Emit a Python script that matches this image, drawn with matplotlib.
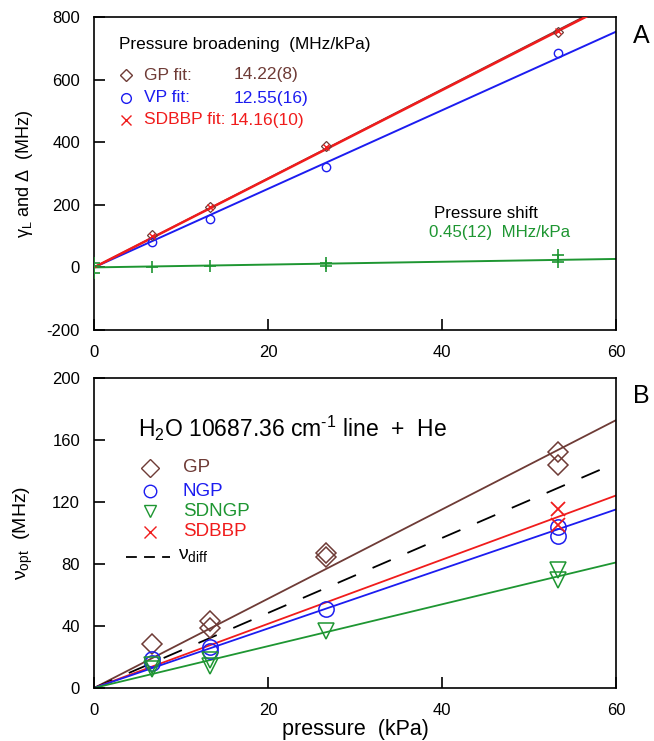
import numpy as np
import matplotlib
matplotlib.use("Agg")
import matplotlib.pyplot as plt

plt.rcParams['font.family'] = ['Liberation Sans', 'DejaVu Sans']
plt.rcParams['mathtext.fontset'] = 'custom'
plt.rcParams['mathtext.rm'] = 'Liberation Sans'
plt.rcParams['mathtext.it'] = 'Liberation Sans:italic'
plt.rcParams['mathtext.bf'] = 'Liberation Sans:bold'
plt.rcParams['axes.unicode_minus'] = False

# ---------------- data ----------------
pressure = [6.67, 13.33, 26.67, 53.33]

# Panel A: pressure broadening / shift (MHz)
gp_broad = [103, 194, 388, 753]
vp_broad = [82, 155, 320, 684]
sdbbp_broad = [101, 192, 385, 756]
shift_p = [0, 0, 0, 6.67, 13.33, 26.67, 26.67, 53.33, 53.33]
shift_vals = [15, 4, -17, 2, 4, 15, 4, 40, 18]
slope_gp_A = 14.22
slope_vp_A = 12.55
slope_sdbbp_A = 14.16
slope_shift_A = 0.45

# Panel B: nu_opt (MHz)
gp_p = [6.67, 13.33, 13.33, 26.67, 26.67, 53.33, 53.33]
gp_opt = [28.4, 43.4, 38.7, 86.9, 84.7, 152.5, 143.9]
ngp_p = [6.67, 6.67, 13.33, 13.33, 26.67, 53.33, 53.33]
ngp_opt = [18.7, 16.0, 26.6, 24.0, 50.8, 104.0, 98.0]
sdngp_p = [6.67, 6.67, 13.33, 13.33, 26.67, 53.33, 53.33]
sdngp_opt = [15.0, 12.5, 18.0, 14.5, 37.0, 76.0, 70.0]
sdbbp_p = [53.33, 53.33]
sdbbp_opt = [115.5, 105.0]
slope_gp_B = 2.88
slope_ngp_B = 1.92
slope_sdngp_B = 1.35
slope_sdbbp_B = 2.07
slope_diff_B = 2.42

x_ticks = [0, 20, 40, 60]

brown = '#6e3b36'
blue = '#1c1cf0'
red = '#f01c1c'
green = '#1e9632'

W, H = 654, 741
fig = plt.figure(figsize=(W / 100, H / 100), dpi=100)

def frac(x0, y0, x1, y1):
    return [x0 / W, 1 - y1 / H, (x1 - x0) / W, (y1 - y0) / H]

axA = fig.add_axes(frac(94, 17, 616, 330))
axB = fig.add_axes(frac(94, 378, 616, 688))

xx = np.array([0, 60])

# ---------- Panel A ----------
axA.plot(xx, slope_vp_A * xx, color=blue, lw=1.4, zorder=2)
axA.plot(xx, slope_gp_A * xx, color=brown, lw=1.2, zorder=2)
axA.plot(xx, slope_sdbbp_A * xx, color=red, lw=1.8, zorder=3)
axA.plot(xx, slope_shift_A * xx, color=green, lw=1.4, zorder=2)
axA.plot(pressure, gp_broad, ls='none', marker='D', ms=5, mfc='none', mec=brown, mew=0.9, zorder=4)
axA.plot(pressure, vp_broad, ls='none', marker='o', ms=6, mfc='none', mec=blue, mew=1.0, zorder=4)
axA.plot(pressure, sdbbp_broad, ls='none', marker='x', ms=5, color=red, mew=1.0, zorder=4)
axA.plot(shift_p, shift_vals, ls='none', marker='+', ms=9, color=green, mew=1.2, zorder=4)

axA.set_xlim(0, 60)
axA.set_ylim(-200, 800)
axA.set_xticks(x_ticks)
axA.set_yticks([-200, 0, 200, 400, 600, 800])
axA.set_ylabel('γ$_{\\rm L}$ and Δ  (MHz)', fontsize=13)
axA.yaxis.set_label_coords((35 - 94) / 522, 0.5)

def tx(px, py, s, **kw):
    fig.text(px / W, 1 - py / H, s, **kw)

tx(119, 44, 'Pressure broadening  (MHz/kPa)', fontsize=12.4, va='center')
rowsA = [(75, 'D', brown, 'GP fit:', '14.22(8)'),
         (98, 'o', blue, 'VP fit:', '12.55(16)'),
         (120, 'x', red, 'SDBBP fit:', '14.16(10)')]
for py, m, c, lab, val in rowsA:
    fig.lines.append(plt.Line2D([126 / W], [1 - py / H], transform=fig.transFigure,
                                marker=m, ms=7 if m != 'D' else 6, mfc='none', mec=c, color=c,
                                mew=1.0, ls='none'))
    tx(144, py, lab, fontsize=12.5, color=c, va='center')
    tx(234 if lab != 'SDBBP fit:' else 230, py, val, fontsize=12.5, color=c, va='center')
tx(434, 213, 'Pressure shift', fontsize=12.2, va='center')
tx(429, 233, '0.45(12)  MHz/kPa', fontsize=12.2, color=green, va='center')

# ---------- Panel B ----------
axB.plot(xx, slope_gp_B * xx, color=brown, lw=1.3, zorder=2)
axB.plot(xx, slope_diff_B * xx, color='black', lw=1.3, dashes=(11, 10), zorder=2)
axB.plot(xx, slope_sdbbp_B * xx, color=red, lw=1.3, zorder=2)
axB.plot(xx, slope_ngp_B * xx, color=blue, lw=1.3, zorder=2)
axB.plot(xx, slope_sdngp_B * xx, color=green, lw=1.3, zorder=2)
axB.plot(gp_p, gp_opt, ls='none', marker='D', ms=10, mfc='none', mec=brown, mew=1.1, zorder=4)
axB.plot(ngp_p, ngp_opt, ls='none', marker='o', ms=11, mfc='none', mec=blue, mew=1.1, zorder=4)
axB.plot(sdngp_p, sdngp_opt, ls='none', marker='v', ms=11, mfc='none', mec=green, mew=1.1, zorder=4)
axB.plot(sdbbp_p, sdbbp_opt, ls='none', marker='x', ms=10, color=red, mew=1.3, zorder=4)

axB.set_xlim(0, 60)
axB.set_ylim(0, 200)
axB.set_xticks(x_ticks)
axB.set_yticks([0, 40, 80, 120, 160, 200])
axB.set_xlabel('pressure  (kPa)', fontsize=15.5)
axB.xaxis.set_label_coords(0.5, (688 - 730) / 310)
axB.xaxis.label.set_va('center')
axB.set_ylabel('ν$_{\\rm opt}$  (MHz)', fontsize=14)
axB.yaxis.set_label_coords((35 - 94) / 522, 0.5)

tx(138, 428, r'H$_2$O 10687.36 cm$^{\text{-}1}$ line  +  He', fontsize=16.5, va='center')
rowsB = [(468, 'D', brown, 'GP'), (491, 'o', blue, 'NGP'),
         (511, 'v', green, 'SDNGP'), (532, 'x', red, 'SDBBP')]
for py, m, c, lab in rowsB:
    fig.lines.append(plt.Line2D([150 / W], [1 - py / H], transform=fig.transFigure,
                                marker=m, ms=9, mfc='none', mec=c, color=c, mew=1.0, ls='none'))
    tx(183, py, lab, fontsize=13.5, color=c, va='center')
fig.lines.append(plt.Line2D([126 / W, 170 / W], [1 - 557 / H, 1 - 557 / H], transform=fig.transFigure,
                            color='black', lw=1.3, dashes=(6, 4)))
tx(178, 556, 'ν$_{\\rm diff}$', fontsize=14, va='center')

for ax in (axA, axB):
    ax.tick_params(direction='in', length=8, width=1.2, labelsize=12, pad=10,
                   top=False, right=False)
    ax.tick_params(axis='x', pad=11)
    for sp in ax.spines.values():
        sp.set_linewidth(1.2)

tx(641, 36, 'A', fontsize=18, ha='center', va='center')
tx(641, 396, 'B', fontsize=18, ha='center', va='center')

fig.savefig('out.png', dpi=100)
